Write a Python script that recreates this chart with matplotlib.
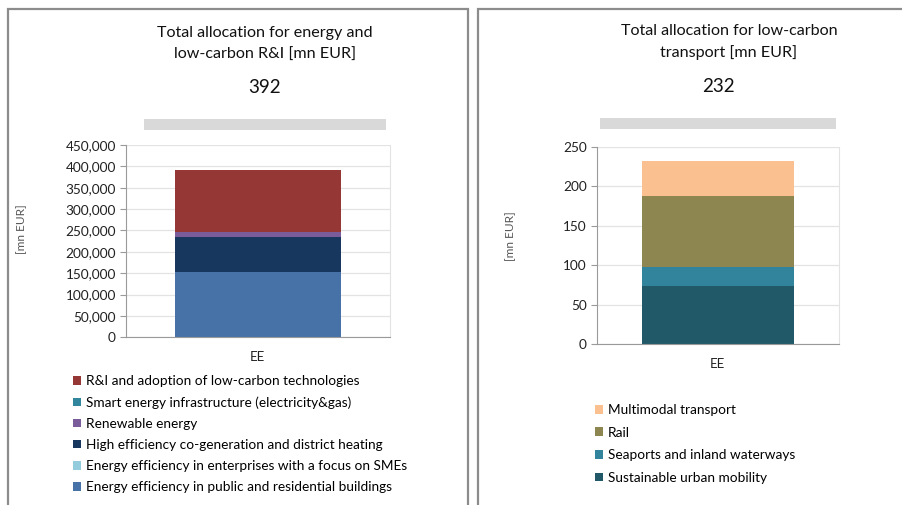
import matplotlib
matplotlib.use("Agg")
import matplotlib.pyplot as plt
from matplotlib.patches import Rectangle
from matplotlib.ticker import FuncFormatter

plt.rcParams['font.family'] = ['Lato', 'DejaVu Sans']

# ---- data ----
category = ["EE"]

energy_labels = [
    "Energy efficiency in public and residential buildings",
    "Energy efficiency in enterprises with a focus on SMEs",
    "High efficiency co-generation and district heating",
    "Renewable energy",
    "Smart energy infrastructure (electricity&gas)",
    "R&I and adoption of low-carbon technologies",
]
energy_values = [153500, 0, 82000, 11000, 0, 145500]
energy_colors = ["#4672A8", "#93CDDD", "#17375E", "#7A5C9A", "#31859C", "#953735"]
energy_total = "392"
energy_ticks = [0, 50000, 100000, 150000, 200000, 250000, 300000, 350000, 400000, 450000]

transport_labels = [
    "Sustainable urban mobility",
    "Seaports and inland waterways",
    "Rail",
    "Multimodal transport",
]
transport_values = [74, 23, 91, 44]
transport_colors = ["#215968", "#31849B", "#8E8650", "#FAC090"]
transport_total = "232"
transport_ticks = [0, 50, 100, 150, 200, 250]

W, H = 903, 505
fig = plt.figure(figsize=(W / 100, H / 100), dpi=100)
fig.patch.set_facecolor("white")


def fx(x):
    return x / W


def fy(y):
    return 1 - y / H


def make_axes(x0, x1, ytop, ybot):
    return fig.add_axes([fx(x0), fy(ybot), fx(x1) - fx(x0), fy(ytop) - fy(ybot)])


def style_axes(ax, ticks, fmt):
    ax.set_ylim(ticks[0], ticks[-1])
    ax.set_yticks(ticks)
    ax.yaxis.set_major_formatter(FuncFormatter(fmt))
    ax.set_xlim(-0.5, 0.5)
    ax.set_xticks([0])
    ax.set_xticklabels(category)
    ax.grid(axis="y", color="#E3E3E3", linewidth=0.9)
    ax.set_axisbelow(True)
    ax.spines["top"].set_visible(False)
    ax.spines["right"].set_color("#E3E3E3")
    ax.spines["left"].set_color("#9A9A9A")
    ax.spines["bottom"].set_color("#9A9A9A")
    ax.tick_params(axis="y", length=4, color="#9A9A9A", labelsize=9.8, labelcolor="#222222", pad=3)
    ax.tick_params(axis="x", length=0, labelsize=9.5, labelcolor="#222222", pad=10)


def stacked(ax, values, colors, labels):
    bottom = 0
    handles = []
    for v, c, l in zip(values, colors, labels):
        h = ax.bar(category, [v], bottom=bottom, width=0.63, color=c, label=l, linewidth=0)
        handles.append(h)
        bottom += v
    return handles


# ---- panel borders ----
fig.patches.append(Rectangle((fx(8), fy(520)), fx(468) - fx(8), fy(8.5) - fy(520),
                             transform=fig.transFigure, fill=False, edgecolor="#8C8C8C", linewidth=1.6))
fig.patches.append(Rectangle((fx(478), fy(520)), fx(920) - fx(478), fy(9) - fy(520),
                             transform=fig.transFigure, fill=False, edgecolor="#8C8C8C", linewidth=1.6))

# ---- left chart ----
axL = make_axes(125.7, 390, 145, 337.3)
hL = stacked(axL, energy_values, energy_colors, energy_labels)
style_axes(axL, energy_ticks, lambda v, p: f"{int(v):,}")
fig.text(fx(265), fy(33), "Total allocation for energy and", ha="center", va="center", fontsize=11.6, color="#111111")
fig.text(fx(265), fy(55), "low-carbon R&I [mn EUR]", ha="center", va="center", fontsize=11.6, color="#111111")
fig.text(fx(265), fy(88), energy_total, ha="center", va="center", fontsize=13.5, color="#111111")
fig.patches.append(Rectangle((fx(144), fy(130)), fx(386) - fx(144), fy(119) - fy(130),
                             transform=fig.transFigure, color="#D9D9D9", linewidth=0))
fig.text(fx(22), fy(229), "[mn EUR]", rotation=90, ha="center", va="center", fontsize=8.6, color="#555555")
legL = fig.legend(handles=hL[::-1], labels=energy_labels[::-1], loc="upper left",
                  bbox_to_anchor=(fx(73), fy(375)), frameon=False, fontsize=9.8,
                  handlelength=0.6, handleheight=0.6, handletextpad=0.35,
                  labelspacing=0.67, borderaxespad=0, borderpad=0)

# ---- right chart ----
axR = make_axes(596.7, 839, 146.7, 344)
hR = stacked(axR, transport_values, transport_colors, transport_labels)
style_axes(axR, transport_ticks, lambda v, p: f"{int(v)}")
fig.text(fx(729), fy(31), "Total allocation for low-carbon", ha="center", va="center", fontsize=11.6, color="#111111")
fig.text(fx(729), fy(53), "transport [mn EUR]", ha="center", va="center", fontsize=11.6, color="#111111")
fig.text(fx(718), fy(87), transport_total, ha="center", va="center", fontsize=13.5, color="#111111")
fig.patches.append(Rectangle((fx(600), fy(129)), fx(836) - fx(600), fy(118) - fy(129),
                             transform=fig.transFigure, color="#D9D9D9", linewidth=0))
fig.text(fx(511), fy(236), "[mn EUR]", rotation=90, ha="center", va="center", fontsize=8.6, color="#555555")
legR = fig.legend(handles=hR[::-1], labels=transport_labels[::-1], loc="upper left",
                  bbox_to_anchor=(fx(595), fy(404)), frameon=False, fontsize=9.8,
                  handlelength=0.6, handleheight=0.6, handletextpad=0.35,
                  labelspacing=0.78, borderaxespad=0, borderpad=0)

fig.savefig("out.png", dpi=100)
